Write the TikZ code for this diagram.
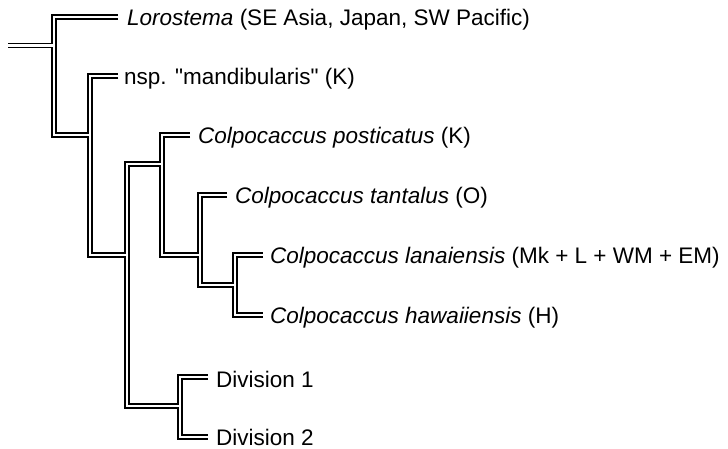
\documentclass[tikz,border=0pt]{standalone}
\usepackage{fontspec}
\setmainfont{Liberation Sans}[Ligatures=TeXOff]
\begin{document}
\begin{tikzpicture}[x=1pt,y=-1pt,
  blk/.style={line width=5.2pt,black,line join=miter},
  wht/.style={line width=2.8pt,white,line join=miter},
  leaf/.style={anchor=base west,inner sep=0pt,font=\fontsize{22.5}{27}\selectfont}]
\useasboundingbox (0,0) rectangle (728,449);
% internal points
\coordinate (r0) at (8,45.5);
\coordinate (n1) at (54,45.5);
\coordinate (n1b) at (54,135);
\coordinate (n2) at (90,135);
\coordinate (n2b) at (90,255);
\coordinate (n3) at (127,255);
\coordinate (n3t) at (127,164);
\coordinate (n3b) at (127,406);
\coordinate (n4) at (162,164);
\coordinate (n4b) at (162,255);
\coordinate (n5) at (200,255);
\coordinate (n5b) at (200,285);
\coordinate (n6) at (235,285);
\coordinate (n6b) at (235,315);
\coordinate (n7) at (180,406);
\coordinate (n7b) at (180,437);
% leaf line ends
\coordinate (lLoro) at (118,17);
\coordinate (lNsp) at (118,76);
\coordinate (lPost) at (190,135);
\coordinate (lTant) at (227,195);
\coordinate (lLan) at (263,255);
\coordinate (lHaw) at (263,315);
\coordinate (lDiv1) at (208,377);
\coordinate (lDiv2) at (208,437);
% labels
\node[leaf] (Loro) at (127,25.5) {\textit{Lorostema} (SE Asia, Japan, SW Pacific)};
\node[leaf] (Nsp) at (124,84.5) {nsp. "mandibularis" (K)};
\node[leaf] (Post) at (198,144) {\textit{Colpocaccus posticatus} (K)};
\node[leaf] (Tant) at (235,203.5) {\textit{Colpocaccus tantalus} (O)};
\node[leaf] (Lan) at (270,263.5) {\textit{Colpocaccus lanaiensis} (Mk + L + WM + EM)};
\node[leaf] (Haw) at (270,323.5) {\textit{Colpocaccus hawaiiensis} (H)};
\node[leaf] (Div1) at (216,387) {Division 1};
\node[leaf] (Div2) at (216,445) {Division 2};
% double-line tree: black first, then white interior
\foreach \s in {blk,wht}{
  \draw[\s] (r0) -- (n1);
  \draw[\s] (lLoro) -| (n1b) -- (n2);
  \draw[\s] (lNsp) -| (n2b) -- (n3);
  \draw[\s] (n4) -- (n3t) -- (n3b) -- (n7);
  \draw[\s] (lPost) -| (n4b) -- (n5);
  \draw[\s] (lTant) -| (n5b) -- (n6);
  \draw[\s] (lLan) -| (n6b) -- (lHaw);
  \draw[\s] (lDiv1) -| (n7b) -- (lDiv2);
}
\end{tikzpicture}
\end{document}
